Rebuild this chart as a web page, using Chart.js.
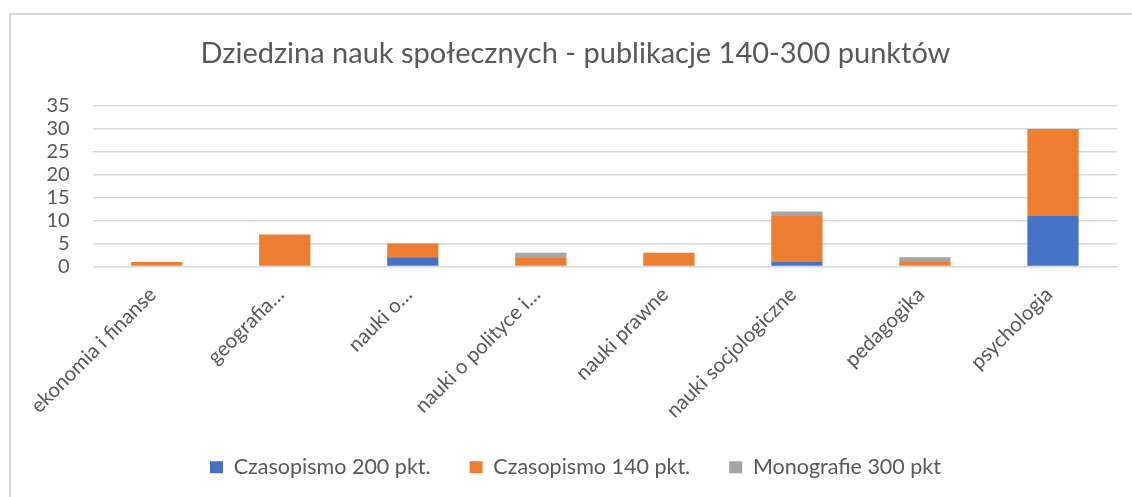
<!DOCTYPE html>
<html>
<head>
<meta charset="utf-8">
<script src="https://cdn.jsdelivr.net/npm/chart.js@4.4.1/dist/chart.umd.min.js"></script>
<style>
  html, body { margin: 0; padding: 0; background: #fff; }
  #wrap { position: relative; width: 1132px; height: 497px; overflow: hidden; }
  /* chart frame: only top and left edges fall inside the picture */
  #frame {
    position: absolute; left: 9px; top: 13px; width: 1200px; height: 600px;
    border-top: 2px solid #d9d9d9; border-left: 2px solid #d9d9d9; pointer-events: none;
  }
</style>
</head>
<body>
<div id="wrap">
  <canvas id="c" width="1132" height="497"></canvas>
  <div id="frame"></div>
</div>
<script>
// data
const categories = [
  "ekonomia i finanse", "geografia…", "nauki o…", "nauki o polityce i…",
  "nauki prawne", "nauki socjologiczne", "pedagogika", "psychologia",
];
const czasopismo200 = [0, 0, 2, 0, 0, 1, 0, 11];
const czasopismo140 = [1, 7, 3, 2, 3, 10, 1, 19];
const monografie300 = [0, 0, 0, 1, 0, 1, 1, 0];
const seriesNames = ["Czasopismo 200 pkt.", "Czasopismo 140 pkt.", "Monografie 300 pkt"];
const yTicks = [0, 5, 10, 15, 20, 25, 30, 35];

const TEXT = "#595959";
const GRID = "#d9d9d9";
const FONT = "Lato, 'Open Sans', sans-serif";

const COLORS = ["#4472C4", "#ED7D31", "#A5A5A5"];
const values = [czasopismo200, czasopismo140, monografie300];

const datasets = values.map((vals, i) => ({
  label: seriesNames[i],
  data: vals,
  backgroundColor: COLORS[i],
  borderWidth: 0,
  barPercentage: 0.4,
  categoryPercentage: 1.0,
}));

Chart.defaults.font.family = FONT;
Chart.defaults.color = TEXT;

const chart = new Chart(document.getElementById("c"), {
  type: "bar",
  data: { labels: categories, datasets },
  options: {
    responsive: false,
    animation: false,
    devicePixelRatio: 1,
    layout: { padding: { left: 34, right: 15, top: 0, bottom: 9 } },
    plugins: {
      title: {
        display: true,
        text: "Dziedzina nauk społecznych - publikacje 140-300 punktów",
        color: TEXT,
        font: { family: FONT, size: 29, weight: "normal" },
        padding: { top: 36.5, bottom: 34.7 },
      },
      legend: {
        position: "bottom",
        labels: {
          color: TEXT,
          font: { family: FONT, size: 21.5 },
          boxWidth: 13, boxHeight: 12,
          padding: 39,
        },
      },
      tooltip: { enabled: false },
    },
    scales: {
      x: {
        stacked: true,
        grid: { display: false },
        border: { display: false },
        ticks: {
          color: TEXT,
          font: { family: FONT, size: 20.5 },
          autoSkip: false,
          minRotation: 45, maxRotation: 45,
          padding: 8,
          labelOffset: -4,
        },
        afterFit(scale) {
          scale.height = 151;
          scale.paddingLeft = 0;
          scale.paddingRight = 0;
          // long rotated labels run a bit past the axis box, don't clip them
          scale._computeLabelArea = () => undefined;
        },
      },
      y: {
        stacked: true,
        min: 0, max: 35,
        grid: { color: GRID, lineWidth: 1.5, drawTicks: false },
        border: { display: false },
        afterBuildTicks(scale) {
          scale.ticks = yTicks.map(v => ({ value: v }));
        },
        ticks: {
          color: TEXT,
          font: { family: FONT, size: 20 },
          autoSkip: false,
          padding: 23,
        },
        afterFit(scale) {
          scale.width = 58.7;
        },
      },
    },
  },
});
</script>
</body>
</html>
